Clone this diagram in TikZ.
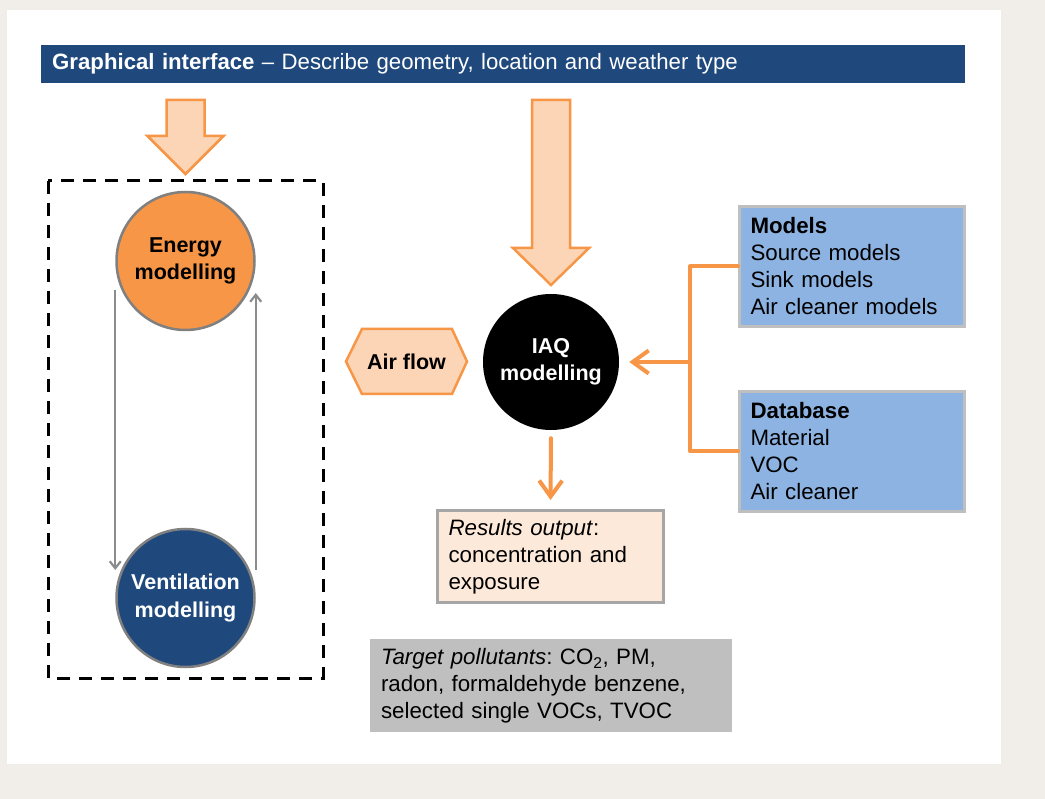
\documentclass[tikz,border=0pt]{standalone}
\usepackage{fontspec}
\setmainfont{Liberation Sans}
\usepackage{tikz}
\usetikzlibrary{arrows.meta, positioning}
\definecolor{pagebg}{HTML}{F1EEEA}
\definecolor{navy}{HTML}{1F497D}
\definecolor{orng}{HTML}{F79646}
\definecolor{peach}{HTML}{FBD5B5}
\definecolor{lightpeach}{HTML}{FDE9D9}
\definecolor{boxblue}{HTML}{8DB3E2}
\definecolor{boxgray}{HTML}{BFBFBF}
\frenchspacing

\begin{document}
\begin{tikzpicture} [x = 1pt, y = -1pt,
  txt/.style = {font = \fontsize{22.3}{27}\selectfont},
  model/.style = {circle, draw = gray, line width = 2.5pt, minimum size = 138pt, align = center, font = \fontsize{21.5}{27.5}\selectfont\bfseries},
  infobox/.style = {rectangle, draw = boxgray, line width = 3pt, fill = boxblue, minimum width = 225pt, minimum height = 120pt, text width = 203pt, inner xsep = 11pt, align = left, txt},
  blockarrow/.style = {draw = orng, line width = 2.5pt, fill = peach, line join = miter},
  feed/.style = {draw = orng, line width = 4pt, line cap = round, line join = round},
  feedtip/.style = {-{Straight Barb[length = 16pt, width = 23pt]}},
  cycle arrow/.style = {draw = gray!90, line width = 2.2pt, -{Straight Barb[length = 7pt, width = 11pt]}}]
\fill[pagebg] (0,0) rectangle (1045,799);
\fill[white] (7,10) rectangle (1001,764);
\useasboundingbox (0,0) rectangle (1045,799);

\node[fill = navy, text = white, anchor = north west, minimum width = 924pt, minimum height = 38pt, text width = 902pt, inner xsep = 11pt, align = left, font = \fontsize{22.2}{24}\selectfont] (gui) at (41,45) {\textbf{Graphical interface} -- Describe geometry, location and weather type};

\draw[blockarrow] (166.5,100) -- (204.5,100) -- (204.5,136) -- (223.5,136) -- (185.5,174) -- (147.5,136) -- (166.5,136) -- cycle;
\draw[blockarrow] (532,100) -- (570,100) -- (570,248) -- (589,248) -- (551,285) -- (513,248) -- (532,248) -- cycle;

\draw[line width = 3pt, dash pattern = on 13pt off 9pt] (48,181) rectangle (323,678);

\node[model, fill = orng] (energy) at (185.5,261) {Energy\\modelling};
\node[model, fill = navy, text = white] (vent) at (185.5,598) {Ventilation\\modelling};
\node[model, fill = black, draw = none, text = white, minimum size = 136pt] (iaq) at (551,362) {IAQ\\modelling};

\draw[cycle arrow] ([yshift = -29pt]energy.west) -- ([yshift = 28pt]vent.west);
\draw[cycle arrow] ([yshift = 28pt]vent.east) -- ([yshift = -32pt]energy.east);

\draw[blockarrow] (346,361.5) -- (362,329) -- (452,329) -- (467,361.5) -- (452,394) -- (362,394) -- cycle;
\node[font = \fontsize{21.5}{27}\selectfont\bfseries] (airflow) at (406.5,361.5) {Air flow};

\node[infobox] (models) at (852,266.5) {\textbf{Models}\\Source models\\Sink models\\Air cleaner models};
\node[infobox] (database) at (852,451.5) {\textbf{Database}\\Material\\VOC\\Air cleaner};

\node[infobox, fill = lightpeach, draw = gray!70, minimum height = 92pt, text width = 204pt] (results) at (550.5,556.5) {\textit{Results output}:\\concentration and\\exposure};
\node[rectangle, fill = boxgray, minimum width = 362pt, minimum height = 93pt, text width = 340pt, inner xsep = 11pt, align = left, txt] (target) at (551,685.5) {\textit{Target pollutants}: CO\textsubscript{2}, PM,\\radon, formaldehyde benzene,\\selected single VOCs, TVOC};

\coordinate (fork) at (690,362);
\draw[feed] (models.west) -| (fork) |- (database.west);
\draw[feed, feedtip, shorten >= 9pt] (fork) -- (iaq.east);
\draw[feed, feedtip, shorten <= 7pt, shorten >= 9pt] (iaq.south) -- (results.north);
\end{tikzpicture}
\end{document}
